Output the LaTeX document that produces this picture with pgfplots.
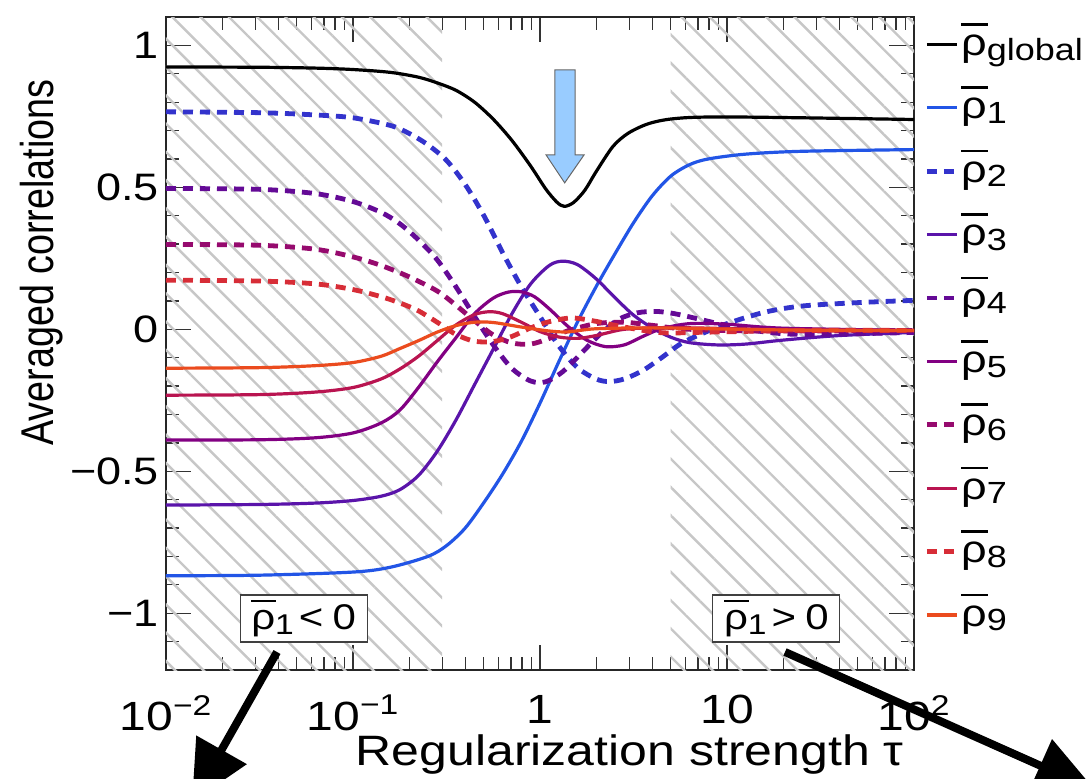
\documentclass[border=0pt]{standalone}
\usepackage{fontspec}
\setmainfont{Liberation Sans}
\usepackage{graphicx}
\usepackage{pgfplots}
\pgfplotsset{compat=1.18}
\usepackage{pgfplotstable}
\usetikzlibrary{patterns.meta,arrows.meta}

\definecolor{c1}{RGB}{34,85,230}
\definecolor{c2}{RGB}{51,51,204}
\definecolor{c3}{RGB}{90,20,170}
\definecolor{c4}{RGB}{100,10,150}
\definecolor{c5}{RGB}{130,0,130}
\definecolor{c6}{RGB}{150,10,110}
\definecolor{c7}{RGB}{185,20,80}
\definecolor{c8}{RGB}{215,45,55}
\definecolor{c9}{RGB}{235,75,30}
\definecolor{lblue}{RGB}{153,204,255}

\newcommand{\sq}[1]{\scalebox{1}[0.85]{#1}}
\newcommand{\rb}{\makebox[0pt][l]{\raisebox{0.78em}{\rule{0.6em}{0.07em}}}ρ}
\newcommand{\sub}[1]{\raisebox{-0.12em}{\scalebox{0.8}{#1}}}

\pgfplotstableread{
lx y
-2.00 0.924
-1.50 0.923
-1.20 0.920
-1.00 0.915
-0.80 0.905
-0.65 0.888
-0.55 0.868
-0.45 0.842
-0.35 0.800
-0.25 0.740
-0.15 0.665
-0.05 0.575
0.03 0.495
0.09 0.448
0.13 0.433
0.18 0.447
0.24 0.490
0.30 0.555
0.39 0.644
0.47 0.690
0.57 0.722
0.67 0.738
0.80 0.746
1.00 0.748
1.40 0.745
2.00 0.739
}\tglobal

\pgfplotstableread{
lx y
-2.0 -0.868
-1.5 -0.866
-1.0 -0.855
-0.8 -0.838
-0.6 -0.800
-0.5 -0.762
-0.4 -0.700
-0.3 -0.610
-0.2 -0.510
-0.1 -0.395
0.0 -0.260
0.1 -0.115
0.2 0.025
0.3 0.150
0.4 0.265
0.5 0.375
0.6 0.470
0.7 0.540
0.8 0.580
0.9 0.600
1.1 0.617
1.4 0.627
2.0 0.633
}\tone

\pgfplotstableread{
lx y
-2.00 0.766
-1.50 0.763
-1.20 0.755
-1.00 0.745
-0.80 0.718
-0.70 0.690
-0.60 0.650
-0.50 0.595
-0.40 0.510
-0.30 0.400
-0.20 0.270
-0.10 0.150
0.00 0.045
0.10 -0.058
0.20 -0.135
0.30 -0.175
0.37 -0.184
0.45 -0.175
0.55 -0.145
0.65 -0.100
0.75 -0.052
0.85 -0.020
1.00 0.020
1.20 0.060
1.40 0.082
1.70 0.094
2.00 0.102
}\ttwo

\pgfplotstableread{
lx y
-2.00 -0.619
-1.50 -0.617
-1.20 -0.612
-1.00 -0.603
-0.85 -0.588
-0.75 -0.565
-0.65 -0.515
-0.55 -0.430
-0.45 -0.320
-0.35 -0.195
-0.25 -0.070
-0.15 0.055
-0.05 0.160
0.05 0.225
0.12 0.240
0.20 0.228
0.30 0.178
0.40 0.112
0.50 0.050
0.60 0.005
0.70 -0.028
0.80 -0.047
0.95 -0.055
1.10 -0.052
1.30 -0.038
1.60 -0.022
2.00 -0.011
}\tthree

\pgfplotstableread{
lx y
-2.00 0.496
-1.50 0.493
-1.20 0.478
-1.00 0.450
-0.85 0.412
-0.75 0.372
-0.65 0.315
-0.55 0.245
-0.45 0.150
-0.35 0.045
-0.25 -0.055
-0.15 -0.138
-0.05 -0.182
0.03 -0.185
0.12 -0.150
0.22 -0.085
0.32 -0.018
0.42 0.035
0.52 0.058
0.62 0.063
0.72 0.055
0.85 0.036
1.00 0.013
1.15 -0.005
1.40 -0.018
2.00 -0.011
}\tfour

\pgfplotstableread{
lx y
-2.00 -0.390
-1.50 -0.389
-1.20 -0.382
-1.00 -0.365
-0.85 -0.330
-0.75 -0.285
-0.65 -0.205
-0.55 -0.115
-0.45 -0.030
-0.35 0.055
-0.25 0.110
-0.17 0.131
-0.10 0.132
-0.03 0.115
0.05 0.072
0.15 0.010
0.25 -0.038
0.35 -0.061
0.45 -0.055
0.55 -0.025
0.65 0.002
0.80 0.020
1.00 0.018
1.30 0.004
2.00 -0.004
}\tfive

\pgfplotstableread{
lx y
-2.00 0.299
-1.50 0.296
-1.20 0.282
-1.00 0.255
-0.85 0.225
-0.70 0.185
-0.55 0.135
-0.45 0.085
-0.35 0.030
-0.25 -0.020
-0.15 -0.048
-0.05 -0.052
0.05 -0.032
0.15 -0.005
0.30 0.020
0.45 0.025
0.60 0.014
0.80 0.000
1.20 -0.006
2.00 -0.004
}\tsix

\pgfplotstableread{
lx y
-2.00 -0.232
-1.50 -0.230
-1.20 -0.221
-1.00 -0.205
-0.85 -0.175
-0.75 -0.140
-0.65 -0.095
-0.55 -0.040
-0.45 0.015
-0.35 0.052
-0.27 0.062
-0.20 0.055
-0.10 0.025
0.00 -0.008
0.10 -0.027
0.20 -0.032
0.30 -0.022
0.45 0.000
0.65 0.006
0.90 0.004
1.40 -0.003
2.00 -0.004
}\tseven

\pgfplotstableread{
lx y
-2.00 0.173
-1.50 0.170
-1.20 0.160
-1.00 0.140
-0.85 0.115
-0.75 0.093
-0.65 0.065
-0.55 0.025
-0.45 -0.018
-0.35 -0.042
-0.25 -0.043
-0.15 -0.025
-0.05 0.005
0.05 0.027
0.17 0.040
0.30 0.028
0.45 0.008
0.65 -0.012
0.90 -0.010
1.40 -0.004
2.00 -0.004
}\teight

\pgfplotstableread{
lx y
-2.00 -0.137
-1.50 -0.135
-1.20 -0.128
-1.00 -0.117
-0.85 -0.095
-0.75 -0.068
-0.65 -0.040
-0.55 -0.010
-0.45 0.013
-0.35 0.025
-0.25 0.024
-0.10 0.008
0.05 -0.006
0.15 -0.009
0.30 0.002
0.60 0.005
1.00 0.001
1.40 -0.003
2.00 -0.004
}\tnine

\begin{document}
\begin{tikzpicture}
\begin{axis}[
  scale only axis, width=374pt, height=326.5pt,
  xmode=log, xmin=0.01, xmax=100, ymin=-1.2, ymax=1.1,
  xtick={0.01,0.1,1,10,100},
  xticklabels={\sq{10\textsuperscript{−2}},\sq{10\textsuperscript{−1}},\sq{1},\sq{10},\sq{10\textsuperscript{2}}},
  minor xtick={0.02,0.03,0.04,0.05,0.06,0.07,0.08,0.09,0.2,0.3,0.4,0.5,0.6,0.7,0.8,0.9,2,3,4,5,6,7,8,9,20,30,40,50,60,70,80,90},
  ytick={-1,-0.5,0,0.5,1},
  yticklabels={\sq{−1},\sq{−0.5},\sq{0},\sq{0.5},\sq{1}},
  minor ytick={-1.1,-0.9,-0.8,-0.7,-0.6,-0.4,-0.3,-0.2,-0.1,0.1,0.2,0.3,0.4,0.6,0.7,0.8,0.9},
  yticklabel style={font=\fontsize{22.5}{24}\selectfont},
  xticklabel style={font=\fontsize{24}{26}\selectfont, yshift=-9pt},
  major tick length=12.5pt, minor tick length=6.5pt,
  every tick/.style={line width=0.65pt, black!80},
  axis line style={line width=0.7pt, black!85},
  xlabel={\sq{Regularization strength τ}},
  xlabel style={at={(axis description cs:0.62,-0.1455)}, anchor=base, font=\fontsize{25}{28}\selectfont},
  ylabel={\scalebox{0.82}[1]{Averaged correlations}},
  ylabel style={at={(axis description cs:-0.166,0.624)}, anchor=center, font=\fontsize{23}{25}\selectfont},
  legend style={at={(axis description cs:1,1)}, anchor=north west, draw=none, fill=none,
    font=\fontsize{22.5}{24}\selectfont, row sep=6.7pt, inner xsep=0pt, inner ysep=0pt,
    xshift=5pt, yshift=-1pt, nodes={inner sep=1pt, text height=17pt, text depth=6pt}},
  legend cell align=left,
  legend image code/.code={\draw[#1] (0pt,0pt) -- (15pt,0pt);},
  solid line/.style={line width=1.6pt, smooth, line join=round},
  dash line/.style={line width=2.4pt, smooth, dash pattern=on 5pt off 3.5pt},
]
\addplot[draw=none, pattern={Lines[angle=-45,distance=10pt,line width=1.2pt]}, pattern color=black!22, forget plot]
  coordinates {(0.01,-1.2) (0.3,-1.2) (0.3,1.1) (0.01,1.1)};
\addplot[draw=none, pattern={Lines[angle=-45,distance=10pt,line width=1.2pt]}, pattern color=black!22, forget plot]
  coordinates {(5,-1.2) (100,-1.2) (100,1.1) (5,1.1)};

\addplot[solid line, black] table[x expr={10^(\thisrow{lx})}, y=y]{\tglobal};
\addlegendentry{\sq{\rb\sub{global}}}
\addplot[solid line, c1] table[x expr={10^(\thisrow{lx})}, y=y]{\tone};
\addlegendentry{\sq{\rb\sub{1}}}
\addplot[dash line, c2] table[x expr={10^(\thisrow{lx})}, y=y]{\ttwo};
\addlegendentry{\sq{\rb\sub{2}}}
\addplot[solid line, c3] table[x expr={10^(\thisrow{lx})}, y=y]{\tthree};
\addlegendentry{\sq{\rb\sub{3}}}
\addplot[dash line, c4] table[x expr={10^(\thisrow{lx})}, y=y]{\tfour};
\addlegendentry{\sq{\rb\sub{4}}}
\addplot[solid line, c5] table[x expr={10^(\thisrow{lx})}, y=y]{\tfive};
\addlegendentry{\sq{\rb\sub{5}}}
\addplot[dash line, c6] table[x expr={10^(\thisrow{lx})}, y=y]{\tsix};
\addlegendentry{\sq{\rb\sub{6}}}
\addplot[solid line, c7] table[x expr={10^(\thisrow{lx})}, y=y]{\tseven};
\addlegendentry{\sq{\rb\sub{7}}}
\addplot[dash line, c8] table[x expr={10^(\thisrow{lx})}, y=y]{\teight};
\addlegendentry{\sq{\rb\sub{8}}}
\addplot[solid line, c9] table[x expr={10^(\thisrow{lx})}, y=y]{\tnine};
\addlegendentry{\sq{\rb\sub{9}}}

\filldraw[fill=lblue, draw=black!60, line width=0.5pt]
  (rel axis cs:0.520,0.919) -- (rel axis cs:0.547,0.919) -- (rel axis cs:0.547,0.789)
  -- (rel axis cs:0.559,0.789) -- (rel axis cs:0.533,0.746) -- (rel axis cs:0.508,0.789)
  -- (rel axis cs:0.520,0.789) -- cycle;

\node[draw=black!75, fill=white, line width=0.6pt, minimum width=63.5pt, minimum height=23.5pt, inner sep=0pt,
  font=\fontsize{21}{22}\selectfont] at (rel axis cs:0.184,0.079) {\sq{\rb\sub{1}\hspace{0.12em}<\hspace{0.22em}0}};
\node[draw=black!75, fill=white, line width=0.6pt, minimum width=63.5pt, minimum height=23.5pt, inner sep=0pt,
  font=\fontsize{21}{22}\selectfont] at (rel axis cs:0.816,0.079) {\sq{\rb\sub{1}\hspace{0.12em}>\hspace{0.22em}0}};
\end{axis}
\draw[line width=4pt, -{Triangle[width=28pt,length=30pt]}] (55.5pt,9pt) -- (13pt,-66pt);
\draw[line width=4pt, -{Triangle[width=28pt,length=30pt]}] (309.5pt,9pt) -- (464.5pt,-60pt);
\pgfresetboundingbox
\path[use as bounding box] (-83pt,-54pt) rectangle (462pt,335pt);
\end{tikzpicture}
\end{document}
